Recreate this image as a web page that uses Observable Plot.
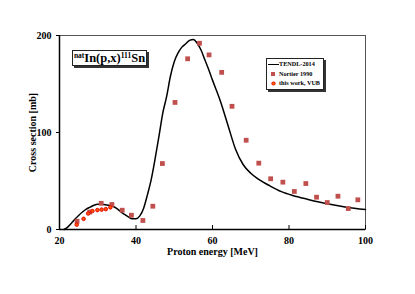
<!DOCTYPE html>
<html>
<head>
<meta charset="utf-8">
<script src="https://cdn.jsdelivr.net/npm/d3@7"></script>
<script src="https://cdn.jsdelivr.net/npm/@observablehq/plot@0.6"></script>
<style>
  body { margin: 0; background: #fff; }
  #wrap { position: relative; width: 415px; height: 294px; font-family: "Liberation Serif", "Times New Roman", serif; }
  #wrap svg { position: absolute; left: 0; top: 0; }
  .box { position: absolute; background: #fff; border: 1px solid #222; box-shadow: 2px 2px 0 #333; font-weight: bold; }
  #title { left: 72px; top: 50px; width: 73px; height: 14px; font-size: 12.5px; line-height: 14px; text-align: center; white-space: nowrap; }
  #title sup { font-size: 7.5px; vertical-align: 4px; line-height: 0; }
  #legend { left: 266px; top: 58px; width: 56px; height: 30px; font-size: 6.2px; }
  .row { position: absolute; left: 0; height: 8px; line-height: 8px; white-space: nowrap; }
  .sw { position: absolute; }
  .lbl { position: absolute; left: 12px; }
</style>
</head>
<body>
<div id="wrap">
  <div id="chart"></div>
  <div id="title" class="box"><sup>nat</sup>In(p,x)<sup>111</sup>Sn</div>
  <div id="legend" class="box">
    <div class="row" style="top:1px"><span class="sw" style="left:1px;top:3.5px;width:11px;height:1.5px;background:#000"></span><span class="lbl">TENDL-2014</span></div>
    <div class="row" style="top:11px"><span class="sw" style="left:4px;top:2px;width:4px;height:4px;background:#c0504d"></span><span class="lbl">Nortier 1990</span></div>
    <div class="row" style="top:20px"><span class="sw" style="left:4.5px;top:2.5px;width:3px;height:3px;border-radius:50%;background:#ff5500;box-shadow:0 0 0 0.6px #e00000"></span><span class="lbl">this work, VUB</span></div>
  </div>
</div>
<script>
// TENDL-2014 curve
const tendlE = [21.2, 22, 23, 24, 25, 26, 27, 28, 29, 30, 31, 32, 33, 34, 35, 36, 37, 38, 39, 40, 41, 42, 43, 44, 45, 46, 47, 48, 49, 50, 51, 52, 53, 54, 55, 56, 57, 58, 59, 60, 62, 64, 66, 68, 70, 72, 75, 78, 81, 85, 90, 95, 100];
const tendlS = [0, 2, 6, 10.5, 14.5, 18, 21, 23, 25, 26, 26, 25.5, 25, 24, 21.5, 18.5, 15.5, 13, 11, 11, 14, 22, 36, 52, 73, 96, 120, 137, 158, 173, 182, 188, 191.5, 195, 196, 192, 185, 175, 165, 154, 133, 108, 83, 67, 58, 52, 45, 39, 35, 31, 26.5, 23, 20.5];
// Nortier 1990
const nortierE = [24.6, 27.9, 30.9, 33.7, 36.4, 38.8, 41.8, 44.4, 46.9, 50.2, 53.5, 56.6, 59.1, 62.4, 65.1, 68.8, 72.1, 75.2, 78.4, 81.4, 84.4, 87.2, 90.0, 92.8, 95.5, 98.0];
const nortierS = [8.5, 18, 27, 25.8, 19.9, 14.7, 9.3, 24, 68, 131, 176, 192, 180, 162, 127, 92, 68.4, 52.3, 48.8, 39.2, 47.4, 33.3, 27.8, 34.3, 21.6, 30.6];
// this work, VUB
const vubE = [24.5, 26.3, 27.5, 28.6, 29.9, 31.0, 32.1, 33.3];
const vubS = [5, 11, 16.5, 19, 20, 20.5, 21, 22.8];

const xTicks = [20, 40, 60, 80, 100];
const yTicks = [0, 100, 200];

const tendl = tendlE.map((e, i) => ({e, s: tendlS[i]}));
const nortier = nortierE.map((e, i) => ({e, s: nortierS[i]}));
const vub = vubE.map((e, i) => ({e, s: vubS[i]}));

const chart = Plot.plot({
  width: 415,
  height: 294,
  marginLeft: 59,
  marginRight: 50,
  marginTop: 35,
  marginBottom: 65,
  style: {fontFamily: "'Liberation Serif', 'Times New Roman', serif", fontSize: "10px", fontWeight: "bold", color: "#000", background: "transparent"},
  x: {domain: [20, 100]},
  y: {domain: [0, 200]},
  marks: [
    Plot.frame({stroke: "#555", strokeWidth: 1}),
    Plot.tickX(xTicks, {x: d => d, insetTop: 190, stroke: "#000", strokeWidth: 1}),
    Plot.axisX({ticks: xTicks, tickSize: 0, tickPadding: 7, label: "Proton energy [MeV]", labelAnchor: "center", labelArrow: "none", labelOffset: 25}),
    Plot.axisY({ticks: yTicks, tickSize: 3, tickPadding: 5, label: "Cross section [mb]", labelAnchor: "center", labelArrow: "none", labelOffset: 31}),
    Plot.ruleX([20], {stroke: "#000", strokeWidth: 1.5}),
    Plot.ruleY([0], {stroke: "#000", strokeWidth: 1.5}),
    Plot.line(tendl, {x: "e", y: "s", curve: "monotone-x", stroke: "#000", strokeWidth: 1.5}),
    Plot.dot(nortier, {x: "e", y: "s", symbol: "square", r: 2.7, fill: "#c0504d", stroke: "none"}),
    Plot.dot(vub, {x: "e", y: "s", r: 1.8, fill: "#ff5500", stroke: "#e00000", strokeWidth: 0.9})
  ]
});
document.getElementById("chart").appendChild(chart);
</script>
</body>
</html>
